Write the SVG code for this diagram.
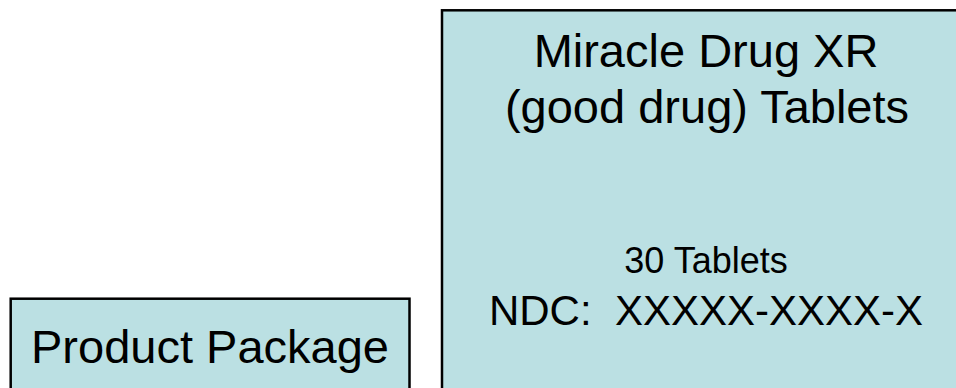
<svg xmlns="http://www.w3.org/2000/svg" width="956" height="388" viewBox="0 0 956 388">
  <style>
    .box { fill: #BBE0E3; stroke: #000000; stroke-width: 2.5; }
    .lbl { font-family: "Liberation Sans", Arial, sans-serif; fill: #000000; text-anchor: middle; }
  </style>
  <rect width="956" height="388" fill="#ffffff"/>
  <g id="product-package">
    <rect class="box" x="10.7" y="298.7" width="398.8" height="120"/>
    <text class="lbl" x="210" y="363" font-size="47">Product Package</text>
  </g>
  <g id="label">
    <rect class="box" x="442" y="10.3" width="540" height="420"/>
    <text class="lbl" x="706" y="67" font-size="47">Miracle Drug XR</text>
    <text class="lbl" x="707" y="123" font-size="47">(good drug) Tablets</text>
    <text class="lbl" x="706" y="273" font-size="36">30 Tablets</text>
    <text class="lbl" x="706" y="325" font-size="42" xml:space="preserve">NDC:  XXXXX-XXXX-X</text>
  </g>
  <g id="connectors"/>
</svg>
